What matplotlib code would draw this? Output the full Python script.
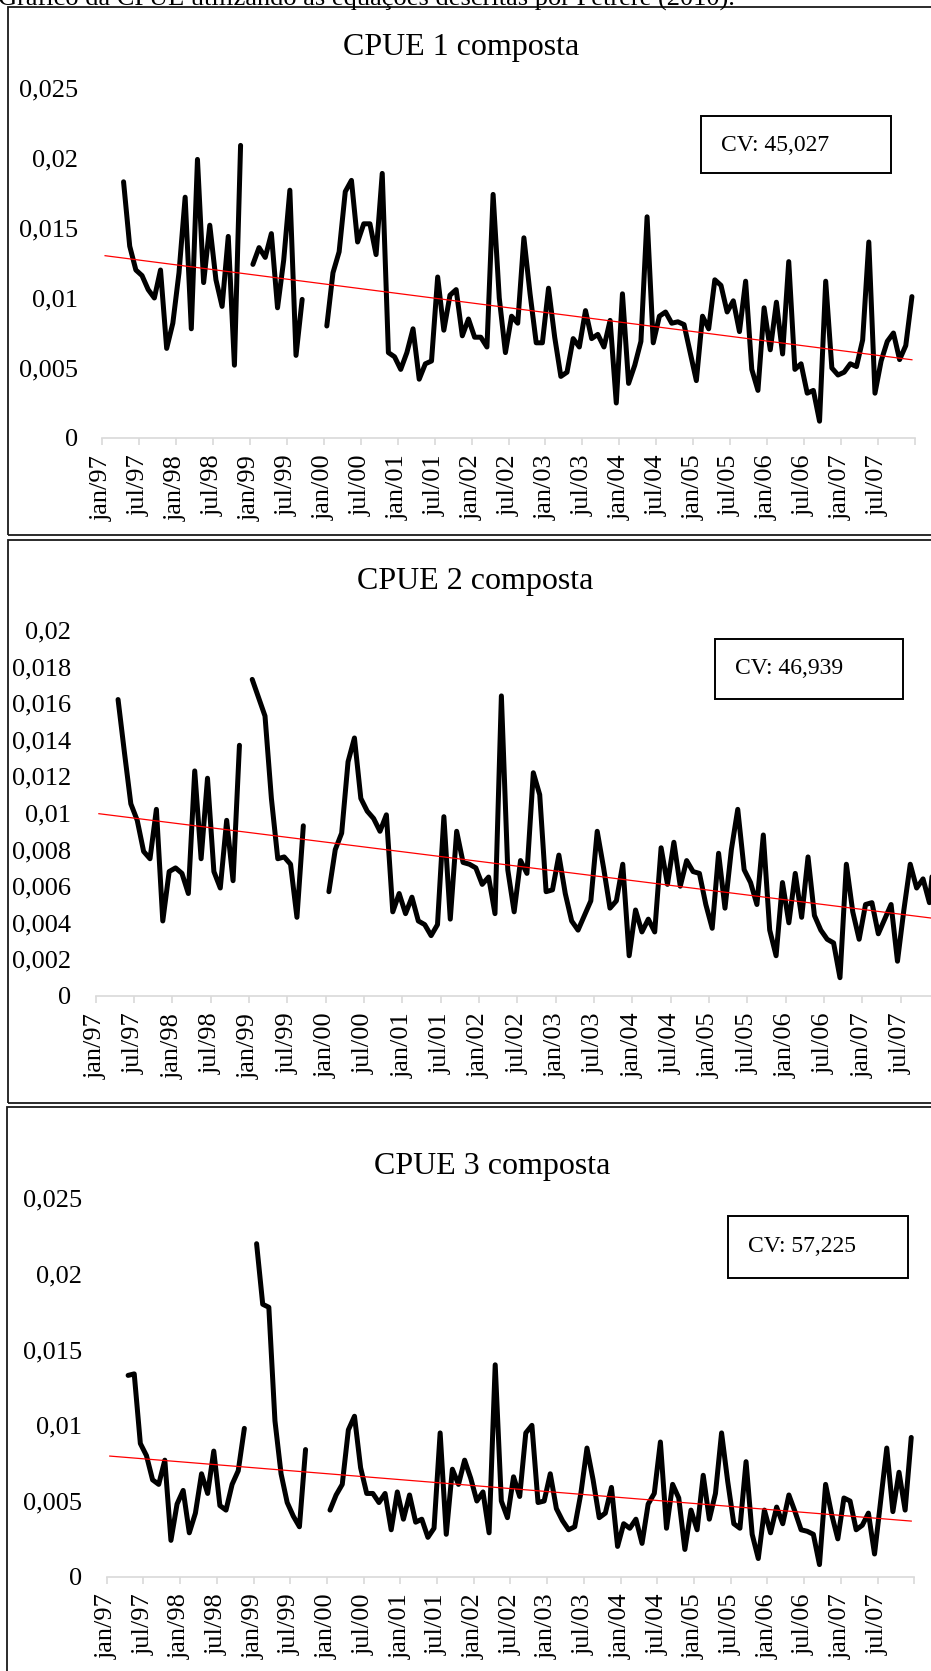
import numpy as np
import matplotlib
matplotlib.use('Agg')
import matplotlib.pyplot as plt
from matplotlib.patches import Rectangle

plt.rcParams['font.family'] = ['Liberation Serif', 'DejaVu Serif']

W, H = 931, 1671
nan = np.nan

caption = 'Gráfico da CPUE utilizando as equações descritas por Petrere (2010).'
titles = ['CPUE 1 composta', 'CPUE 2 composta', 'CPUE 3 composta']
cv_labels = ['CV: 45,027', 'CV: 46,939', 'CV: 57,225']

# one tick every 6 months, jan/97 .. jul/07 (last tick jan/08 has no label)
tick_labels = ['jan/97', 'jul/97', 'jan/98', 'jul/98', 'jan/99', 'jul/99',
               'jan/00', 'jul/00', 'jan/01', 'jul/01', 'jan/02', 'jul/02',
               'jan/03', 'jul/03', 'jan/04', 'jul/04', 'jan/05', 'jul/05',
               'jan/06', 'jul/06', 'jan/07', 'jul/07', '']

# monthly values jan/97 .. dec/07 (132 months), gaps are nan
cpue1 = [nan, nan, nan, 0.0183, 0.0137, 0.0120, 0.0116, 0.0106, 0.0100, 0.0120,
         0.0064, 0.0082, 0.0118, 0.0172, 0.0078, 0.0199, 0.0111, 0.0152, 0.0113, 0.0094,
         0.0144, 0.0052, 0.0209, nan, 0.0124, 0.0136, 0.0129, 0.0146, 0.0093, 0.0127,
         0.0177, 0.0059, 0.0099, nan, nan, nan, 0.0080, 0.0118, 0.0133, 0.0176,
         0.0184, 0.0140, 0.0153, 0.0153, 0.0131, 0.0189, 0.0061, 0.0058, 0.0049, 0.0061,
         0.0078, 0.0042, 0.0053, 0.0055, 0.0115, 0.0077, 0.0102, 0.0106, 0.0073, 0.0085,
         0.0072, 0.0072, 0.0065, 0.0174, 0.0100, 0.0061, 0.0087, 0.0082, 0.0143, 0.0103,
         0.0068, 0.0068, 0.0107, 0.0072, 0.0044, 0.0047, 0.0071, 0.0065, 0.0091, 0.0071,
         0.0074, 0.0065, 0.0084, 0.0025, 0.0103, 0.0039, 0.0052, 0.0069, 0.0158, 0.0068,
         0.0087, 0.0090, 0.0082, 0.0083, 0.0081, 0.0061, 0.0041, 0.0087, 0.0078, 0.0113,
         0.0109, 0.0090, 0.0098, 0.0076, 0.0112, 0.0049, 0.0034, 0.0093, 0.0063, 0.0097,
         0.0060, 0.0126, 0.0049, 0.0053, 0.0032, 0.0034, 0.0012, 0.0112, 0.0050, 0.0045,
         0.0047, 0.0053, 0.0051, 0.0070, 0.0140, 0.0032, 0.0055, 0.0069, 0.0075, 0.0056,
         0.0066, 0.0101]

cpue2 = [nan, nan, nan, 0.0162, 0.0133, 0.0105, 0.0096, 0.0079, 0.0075, 0.0102,
         0.0041, 0.0068, 0.0070, 0.0067, 0.0056, 0.0123, 0.0075, 0.0119, 0.0068, 0.0059,
         0.0096, 0.0063, 0.0137, nan, 0.0173, 0.0163, 0.0153, 0.0108, 0.0075, 0.0076,
         0.0072, 0.0043, 0.0093, nan, nan, nan, 0.0057, 0.0080, 0.0089, 0.0128,
         0.0141, 0.0108, 0.0101, 0.0097, 0.0090, 0.0099, 0.0046, 0.0056, 0.0045, 0.0054,
         0.0041, 0.0039, 0.0033, 0.0039, 0.0098, 0.0042, 0.0090, 0.0073, 0.0072, 0.0070,
         0.0061, 0.0065, 0.0045, 0.0164, 0.0069, 0.0046, 0.0074, 0.0067, 0.0122, 0.0110,
         0.0057, 0.0058, 0.0077, 0.0056, 0.0041, 0.0036, 0.0044, 0.0052, 0.0090, 0.0070,
         0.0048, 0.0052, 0.0072, 0.0022, 0.0047, 0.0035, 0.0042, 0.0035, 0.0081, 0.0061,
         0.0084, 0.0060, 0.0074, 0.0068, 0.0067, 0.0050, 0.0037, 0.0078, 0.0048, 0.0080,
         0.0102, 0.0069, 0.0062, 0.0050, 0.0088, 0.0036, 0.0022, 0.0062, 0.0040, 0.0067,
         0.0043, 0.0076, 0.0044, 0.0036, 0.0031, 0.0029, 0.0010, 0.0072, 0.0046, 0.0031,
         0.0050, 0.0051, 0.0034, 0.0042, 0.0050, 0.0019, 0.0047, 0.0072, 0.0059, 0.0064,
         0.0051, 0.0086]

cpue3 = [nan, nan, nan, 0.0133, 0.0134, 0.0088, 0.0080, 0.0064, 0.0061, 0.0077,
         0.0024, 0.0048, 0.0057, 0.0029, 0.0042, 0.0068, 0.0055, 0.0083, 0.0047, 0.0044,
         0.0061, 0.0070, 0.0098, nan, 0.0220, 0.0180, 0.0178, 0.0103, 0.0068, 0.0049,
         0.0040, 0.0033, 0.0084, nan, nan, nan, 0.0044, 0.0054, 0.0061, 0.0097,
         0.0106, 0.0072, 0.0055, 0.0055, 0.0049, 0.0055, 0.0031, 0.0056, 0.0038, 0.0054,
         0.0036, 0.0038, 0.0026, 0.0032, 0.0095, 0.0028, 0.0071, 0.0061, 0.0077, 0.0065,
         0.0050, 0.0056, 0.0029, 0.0140, 0.0050, 0.0039, 0.0066, 0.0053, 0.0095, 0.0100,
         0.0049, 0.0050, 0.0068, 0.0045, 0.0037, 0.0031, 0.0033, 0.0055, 0.0085, 0.0064,
         0.0039, 0.0042, 0.0059, 0.0020, 0.0035, 0.0032, 0.0038, 0.0022, 0.0048, 0.0055,
         0.0089, 0.0032, 0.0061, 0.0052, 0.0018, 0.0044, 0.0031, 0.0067, 0.0038, 0.0055,
         0.0095, 0.0063, 0.0035, 0.0032, 0.0076, 0.0028, 0.0012, 0.0044, 0.0029, 0.0046,
         0.0035, 0.0054, 0.0043, 0.0031, 0.0030, 0.0028, 0.0008, 0.0061, 0.0041, 0.0025,
         0.0052, 0.0050, 0.0031, 0.0034, 0.0042, 0.0015, 0.0050, 0.0085, 0.0043, 0.0069,
         0.0044, 0.0092]

series = [cpue1, cpue2, cpue3]
y_max = [0.025, 0.02, 0.025]
y_step = [0.005, 0.002, 0.005]

# layout in pixels (left, top, right, bottom)
axes_px = [(102, 88, 915, 438), (95.7, 630, 939, 996), (106.7, 1198.3, 914.3, 1576.7)]
frames_px = [(8, 7, 945, 535), (8, 540, 945, 1103), (7, 1107, 945, 1690)]
title_px = [(461, 55), (475, 589), (492, 1174)]
cvbox_px = [(700.7, 116, 890.7, 173), (715, 638.7, 902.7, 699.3), (728, 1216, 907.7, 1277.7)]
cvtext_px = [(721, 150.7), (735, 674), (748.3, 1251.7)]

fig = plt.figure(figsize=(W / 100, H / 100), dpi=100)
fig.patch.set_facecolor('white')


def fx(x):
    return x / W


def fy(y):
    return 1 - y / H


fig.text(fx(-2), fy(6), caption, fontsize=19, ha='left', va='baseline')

grey = '#d9d9d9'
for k in range(3):
    l, t, r, b = frames_px[k]
    fig.patches.append(Rectangle((fx(l), fy(b)), fx(r - l), (b - t) / H, fill=False,
                                 edgecolor='#1a1a1a', lw=1.3, transform=fig.transFigure))

    l, t, r, b = axes_px[k]
    ax = fig.add_axes([fx(l), fy(b), fx(r - l), (b - t) / H])
    y = np.array(series[k], dtype=float)
    x = np.arange(len(y)) + 0.5
    ax.plot(x, y, color='black', lw=3.6, solid_joinstyle='round', solid_capstyle='round')

    # linear trend (Excel style)
    ok = ~np.isnan(y)
    a, c = np.polyfit(x[ok], y[ok], 1)
    xt = np.array([x[0], x[-1]])
    ax.plot(xt, a * xt + c, color='#ff0000', lw=0.9)

    ax.set_xlim(0, len(y))
    ax.set_ylim(0, y_max[k])
    ax.set_xticks(np.arange(0, len(y) + 1, 6))
    ax.set_xticklabels(tick_labels, rotation=90)
    yt = np.arange(0, y_max[k] + 1e-9, y_step[k])
    ax.set_yticks(yt)
    ax.set_yticklabels(['0'] + [('%g' % v).replace('.', ',') for v in yt[1:]])
    for s in ['top', 'left', 'right']:
        ax.spines[s].set_visible(False)
    ax.spines['bottom'].set_color(grey)
    ax.spines['bottom'].set_linewidth(1.2)
    ax.tick_params(axis='x', direction='out', length=5, width=1.2, color=grey,
                   labelsize=19, pad=7)
    ax.tick_params(axis='y', length=0, labelsize=19, pad=17.5)
    ax.patch.set_alpha(0)

    tx, ty = title_px[k]
    fig.text(fx(tx), fy(ty), titles[k], fontsize=23, ha='center', va='baseline')

    l, t, r, b = cvbox_px[k]
    fig.patches.append(Rectangle((fx(l), fy(b)), fx(r - l), (b - t) / H, fill=False,
                                 edgecolor='black', lw=1.4, transform=fig.transFigure))
    cx, cy = cvtext_px[k]
    fig.text(fx(cx), fy(cy), cv_labels[k], fontsize=17, ha='left', va='baseline')

fig.savefig('out.png', dpi=100)
